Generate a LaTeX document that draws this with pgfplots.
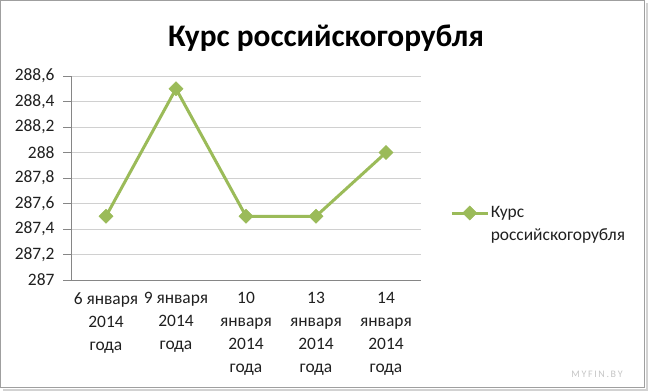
\documentclass[border=0pt]{standalone}
\usepackage{fontspec}
\setmainfont{Carlito}
\usepackage{pgfplots}
\pgfplotsset{compat=1.18}
\definecolor{lineg}{HTML}{9BBB59}
\definecolor{axgray}{HTML}{868686}
\definecolor{gridgray}{HTML}{D0D0D0}
\definecolor{txt}{HTML}{202020}
\begin{document}
\begin{tikzpicture}[x=1bp,y=1bp]
\fill[white] (0,0) rectangle (650,391);
\draw[gray!35, line width=2bp] (3,1.5) -- (647,1.5) -- (647,388);
\draw[gray!75, line width=1bp] (0.5,4) rectangle (644.5,390.5);
\node[font=\bfseries\fontsize{31.5}{36}\selectfont, text=black] at (326,353) {Курс российскогорубля};
\node[text=gray!45, font=\fontsize{10}{12}\selectfont] at (597,17) {M\,Y\,F\,I\,N\,.\,B\,Y};
\begin{axis}[
  at={(71bp,111bp)}, anchor=south west,
  scale only axis, width=350bp, height=204bp,
  xmin=-0.5, xmax=4.5, ymin=287, ymax=288.6,
  axis lines*=left,
  axis line style={axgray, line width=0.8bp},
  xtick={0,1,2,3,4},
  xticklabels={{6 января\\2014\\года},{9 января\\2014\\года},{10\\января\\2014\\года},{13\\января\\2014\\года},{14\\января\\2014\\года}},
  minor xtick={-0.5,0.5,1.5,2.5,3.5,4.5},
  x tick style={draw=none},
  minor x tick style={axgray, line width=0.8bp},
  minor tick length=6bp,
  ytick={287,287.2,287.4,287.6,287.8,288,288.2,288.4,288.6},
  y tick style={axgray, line width=0.8bp},
  major tick length=8bp,
  tick align=outside,
  ymajorgrids,
  grid style={gridgray, line width=0.8bp},
  /pgf/number format/assume math mode=true,
  /pgf/number format/use comma,
  /pgf/number format/fixed,
  /pgf/number format/precision=1,
  yticklabel style={font=\fontsize{17.5}{20}\selectfont, text=txt, xshift=-5bp},
  xticklabel style={font=\fontsize{17.5}{23}\selectfont, text=txt, align=center, yshift=-1bp},
  legend style={at={(1.083,0.272)}, anchor=west, draw=none, fill=none, inner sep=0pt,
    font=\fontsize{17.5}{23}\selectfont, text=txt,
    nodes={align=left, anchor=west, inner xsep=1.5bp}},
  legend cell align=left,
  legend image code/.code={
    \draw[mark repeat=2, mark phase=2, #1] plot coordinates {(0bp,11.5bp) (18bp,11.5bp) (36bp,11.5bp)};},
  clip=false,
]
\addplot[color=lineg, line width=3bp, mark=square*, mark size=5bp,
  mark options={fill=lineg, draw=lineg, line width=0.5bp, rotate=45}]
  coordinates {(0,287.5) (1,288.5) (2,287.5) (3,287.5) (4,288.0)};
\addlegendentry{Курс\\российскогорубля}
\end{axis}
\end{tikzpicture}
\end{document}
